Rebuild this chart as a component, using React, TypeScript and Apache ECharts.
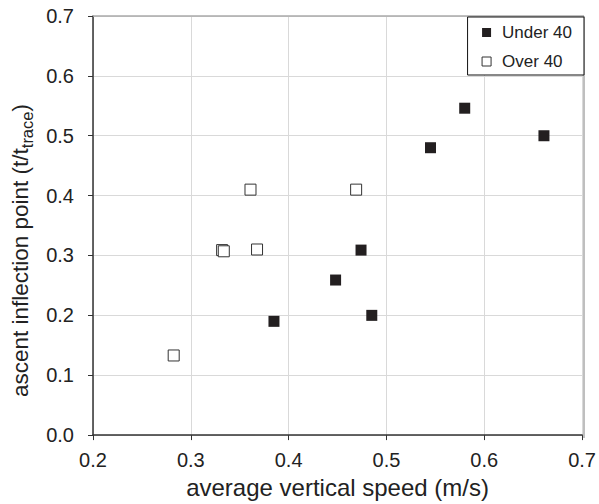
import React, { useEffect, useRef } from "react";
import * as echarts from "echarts";

const under40X = [0.385, 0.448, 0.474, 0.485, 0.545, 0.580, 0.661];
const under40Y = [0.19, 0.259, 0.309, 0.20, 0.48, 0.546, 0.50];
const over40X = [0.2825, 0.332, 0.3337, 0.3677, 0.361, 0.469];
const over40Y = [0.133, 0.309, 0.307, 0.31, 0.41, 0.41];
const seriesNames = ["Under 40", "Over 40"];
const xTitle = "average vertical speed (m/s)";
const yTitleMain = "ascent inflection point (t/t";
const yTitleSub = "trace";

const FONT = "'Liberation Sans', Arial, Helvetica, sans-serif";

export default function App() {
  const ref = useRef<HTMLDivElement>(null);
  useEffect(() => {
    if (!ref.current) return;
    const chart = echarts.init(ref.current, undefined, { renderer: "svg" });
    const pairs = (xs: number[], ys: number[]) => xs.map((x, i) => [x, ys[i]]);
    chart.setOption({
      animation: false,
      backgroundColor: "#ffffff",
      textStyle: { fontFamily: FONT },
      grid: { left: 93, right: 15, top: 16, bottom: 66, containLabel: false },
      legend: {
        orient: "vertical",
        right: 15,
        top: 17,
        padding: [7, 12, 5, 14],
        itemGap: 12,
        itemWidth: 9,
        itemHeight: 9,
        borderColor: "#111",
        borderWidth: 1,
        backgroundColor: "#fff",
        textStyle: { fontSize: 17, color: "#222", fontFamily: FONT, padding: [0, 0, 0, 6] },
        data: [
          { name: seriesNames[0], icon: "rect", itemStyle: { color: "#231f20", borderWidth: 0, opacity: 1 } },
          { name: seriesNames[1], icon: "rect", itemStyle: { color: "#fff", borderColor: "#333", borderWidth: 1, opacity: 1 } },
        ],
      },
      xAxis: {
        type: "value",
        min: 0.2,
        max: 0.7,
        interval: 0.1,
        name: xTitle,
        nameLocation: "middle",
        nameGap: 39,
        nameTextStyle: { fontSize: 24, color: "#222", fontFamily: FONT },
        axisLine: { show: true, onZero: false, lineStyle: { color: "#333", width: 1.5 } },
        axisTick: { show: true, length: 5, lineStyle: { color: "#333" } },
        axisLabel: {
          fontSize: 20,
          color: "#222",
          margin: 15,
          formatter: (v: number) => v.toFixed(1),
        },
        splitLine: { show: true, lineStyle: { color: "#d9d9d9", width: 1 } },
      },
      yAxis: {
        type: "value",
        min: 0,
        max: 0.7,
        interval: 0.1,
        name: `{m|${yTitleMain}}{s|${yTitleSub}}{m|)}`,
        nameLocation: "middle",
        nameGap: 60,
        nameTextStyle: {
          fontSize: 22.5,
          color: "#222",
          fontFamily: FONT,
          padding: [0, 50, 0, 0],
          rich: {
            m: { fontSize: 22.5, color: "#222", fontFamily: FONT, lineHeight: 26, verticalAlign: "bottom" },
            s: { fontSize: 16.5, color: "#222", fontFamily: FONT, lineHeight: 26, verticalAlign: "bottom", padding: [0, 0, -3, 0] },
          },
        },
        axisLine: { show: true, onZero: false, lineStyle: { color: "#333", width: 1.5 } },
        axisTick: { show: true, length: 5, lineStyle: { color: "#333" } },
        axisLabel: {
          fontSize: 20,
          color: "#222",
          margin: 19,
          formatter: (v: number) => v.toFixed(1),
        },
        splitLine: { show: true, lineStyle: { color: "#d9d9d9", width: 1 } },
      },
      graphic: [
        {
          type: "line",
          shape: { x1: 93, y1: 16, x2: 584, y2: 16 },
          style: { stroke: "#aaaaaa", lineWidth: 1.5 },
          z: 1,
        },
        {
          type: "line",
          shape: { x1: 584, y1: 16, x2: 584, y2: 438 },
          style: { stroke: "#aaaaaa", lineWidth: 1.5 },
          z: 1,
        },
      ],
      series: [
        {
          name: seriesNames[0],
          type: "scatter",
          symbol: "rect",
          symbolSize: 11,
          itemStyle: { color: "#231f20", opacity: 1 },
          data: pairs(under40X, under40Y),
          z: 3,
        },
        {
          name: seriesNames[1],
          type: "scatter",
          symbol: "rect",
          symbolSize: 11,
          itemStyle: { color: "#ffffff", borderColor: "#333", borderWidth: 1, opacity: 1 },
          data: pairs(over40X, over40Y),
          z: 4,
        },
      ],
    });
    return () => chart.dispose();
  }, []);
  return <div ref={ref} style={{ width: 599, height: 504, position: "absolute", left: 0, top: 0 }} />;
}
